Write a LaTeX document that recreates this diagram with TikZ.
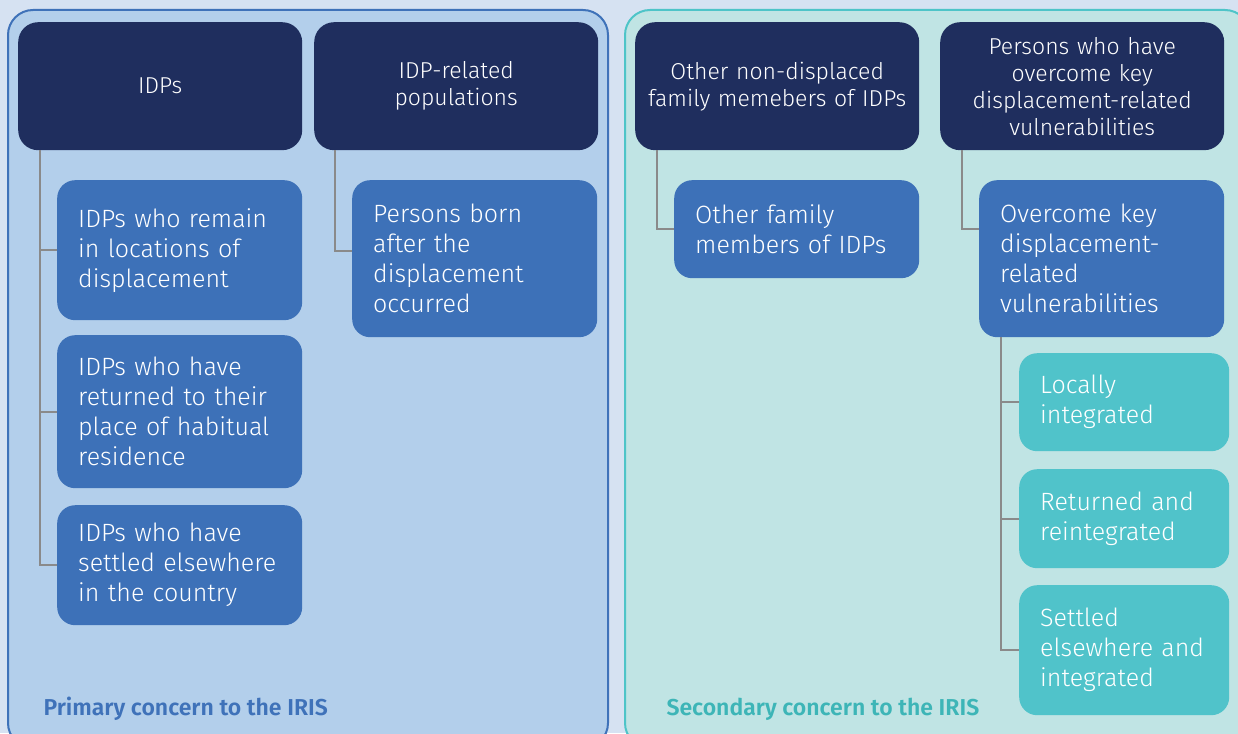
\documentclass[tikz,border=0pt]{standalone}
\usepackage{fontspec}
\setmainfont{Fira Sans}[UprightFont={* Light},BoldFont={* SemiBold}]
\usepackage{tikz}
\usetikzlibrary{positioning}

\begin{document}
\begin{tikzpicture}[x=1pt,y=-1pt,
    catbox/.style={fill=navybox,rounded corners=20pt,text=white,anchor=north west,inner sep=0pt,
      minimum width=284pt,minimum height=128pt,text width=264pt,align=center,font=\fontsize{23}{27}\selectfont},
    subbox/.style={fill=midbox,rounded corners=18pt,text=white,anchor=north west,inner xsep=21pt,inner ysep=0pt,
      text width=203pt,align=left,font=\fontsize{25}{30}\selectfont},
    leafbox/.style={subbox,fill=tealbox,text width=168pt},
    link/.style={draw=linkgray,line width=2pt},
    panel/.style={line width=2pt,rounded corners=25pt},
    concern/.style={anchor=base west,font=\fontsize{23}{26}\selectfont\bfseries}]
    \definecolor{pagebg}{HTML}{D6E2F2}
    \definecolor{leftpanel}{HTML}{B3CFEB}
    \definecolor{leftline}{HTML}{3F72B9}
    \definecolor{rightpanel}{HTML}{C0E4E4}
    \definecolor{rightline}{HTML}{4EC4C8}
    \definecolor{navybox}{HTML}{1F2E5E}
    \definecolor{midbox}{HTML}{3D71B8}
    \definecolor{tealbox}{HTML}{50C3CA}
    \definecolor{linkgray}{HTML}{8A8A8A}
    \definecolor{tealtext}{HTML}{3DB5B7}
    \clip (0,0) rectangle (1238,733);
    \fill[pagebg] (0,0) rectangle (1238,733);
    %panels
    \draw[panel,fill=leftpanel,draw=leftline] (8,10) rectangle (608,748);
    \draw[panel,fill=rightpanel,draw=rightline] (625,10) rectangle (1250,748);
    %headers
    \node[catbox] (idps) at (18,22) {IDPs};
    \node[catbox] (idprel) at (314,22) {IDP-related\\populations};
    \node[catbox] (othfam) at (635,22) {Other non-displaced\\family memebers of IDPs};
    \node[catbox] (overhd) at (940,22) {Persons who have\\overcome key\\displacement-related\\vulnerabilities};
    %sub groups
    \node[subbox,minimum height=140pt] (remain) at (57,180) {IDPs who remain\\in locations of\\displacement};
    \node[subbox,minimum height=153pt] (returned) at (57,335) {IDPs who have\\returned to their\\place of habitual\\residence};
    \node[subbox,minimum height=120pt] (settled) at (57,505) {IDPs who have\\settled elsewhere\\in the country};
    \node[subbox,minimum height=157pt] (born) at (352,180) {Persons born\\after the\\displacement\\occurred};
    \node[subbox,minimum height=98pt] (family) at (674,180) {Other family\\members of IDPs};
    \node[subbox,minimum height=157pt] (overcome) at (979,180) {Overcome key\\displacement-\\related\\vulnerabilities};
    \node[leafbox,minimum height=98pt] (local) at (1019,353) {Locally\\integrated};
    \node[leafbox,minimum height=99pt] (reint) at (1019,469) {Returned and\\reintegrated};
    \node[leafbox,minimum height=130pt] (elsewhere) at (1019,585) {Settled\\elsewhere and\\integrated};
    %lines
    \coordinate (idpstem) at (40,150);
    \coordinate (relstem) at (335,150);
    \coordinate (famstem) at (657,150);
    \coordinate (ovhstem) at (962,150);
    \coordinate (ovcstem) at (1001,337);
    \draw[link] (idpstem) |- (settled.west);
    \foreach \n in {remain,returned}
      \draw[link] (\n.west) -- (\n.west -| idpstem);
    \draw[link] (relstem) |- ([yshift=8pt]born.west);
    \draw[link] (famstem) |- (family.west);
    \draw[link] (ovhstem) |- ([yshift=30pt]overcome.west);
    \draw[link] (ovcstem) |- (elsewhere.west);
    \foreach \n in {local,reint}
      \draw[link] (\n.west) -- (\n.west -| ovcstem);
    %labels
    \node[concern,text=leftline] (primary) at (40,715) {Primary concern to the IRIS};
    \node[concern,text=tealtext] (secondary) at (663,715) {Secondary concern to the IRIS};
\end{tikzpicture}
\end{document}
